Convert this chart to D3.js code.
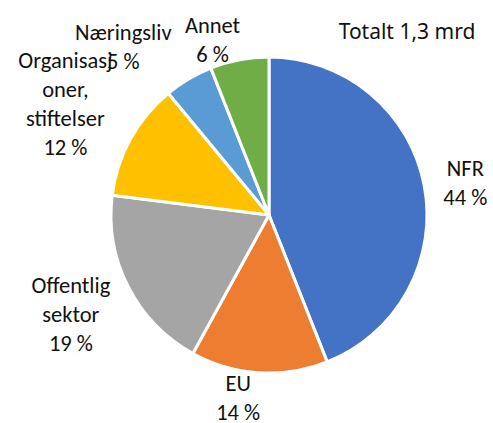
<!DOCTYPE html>
<html>
<head>
<meta charset="utf-8">
<script src="https://cdn.jsdelivr.net/npm/d3@7"></script>
<style>
    body { margin: 0; background: #fff; }
    text { font-family: Carlito, Calibri, Lato, sans-serif; fill: #111; }
    .total { font-family: "Noto Sans", "Open Sans", sans-serif; }
</style>
</head>
<body>
<div id="container-result"></div>
<script>
const categories = ['NFR', 'EU', 'Offentlig sektor', 'Organisasjoner, stiftelser', 'Næringsliv', 'Annet'];
const labelLines = [['NFR'], ['EU'], ['Offentlig', 'sektor'], ['Organisasj', 'oner,', 'stiftelser'], ['Næringsliv'], ['Annet']];
const shares = [44, 14, 19, 12, 5, 6];
const colors = ['#4472C4', '#ED7D31', '#A5A5A5', '#FFC000', '#5B9BD5', '#70AD47'];
const totalLabel = 'Totalt 1,3 mrd';

const [svgW, svgH] = [493, 423];
const [cx, cy, radius] = [269, 215, 158];
const [lineH, fontSize, labelGap] = [29, 22.5, 25];
// excel pushes some labels in to keep them inside the chart area
const labelNudge = [[-5, 7], [-18, -29], [0, -4], [-2, 5], [-28, 14], [-17, 33]];

function initSVG() {
    return d3.select('#container-result')
        .append('svg').attr('width', svgW).attr('height', svgH);
}

function drawPie(svg, arcs) {
    var arc = d3.arc().innerRadius(0).outerRadius(radius);
    svg.append('g').attr('transform', `translate(${cx},${cy})`)
        .selectAll('path').data(arcs).enter()
        .append('path')
        .attr('d', arc)
        .attr('fill', (d, i) => colors[i])
        .attr('stroke', '#fff')
        .attr('stroke-width', 3)
        .attr('stroke-linejoin', 'round');
}

function drawLabels(svg, arcs) {
    var g = svg.append('g').attr('font-size', fontSize);
    var measure = g.append('text').attr('visibility', 'hidden');

    arcs.forEach(function (d, i) {
        var lines = labelLines[i].concat([shares[i] + ' %']);
        var w = d3.max(lines, function (s) {
            measure.text(s);
            return measure.node().getComputedTextLength();
        });
        var h = lines.length * lineH;
        var mid = (d.startAngle + d.endAngle) / 2;
        var ax = cx + (radius + labelGap) * Math.sin(mid);
        var ay = cy - (radius + labelGap) * Math.cos(mid);
        var bx = ax + Math.sin(mid) * w / 2 + labelNudge[i][0];
        var by = ay - Math.cos(mid) * h / 2 + labelNudge[i][1];

        var t = g.append('text').attr('text-anchor', 'middle');
        lines.forEach(function (s, k) {
            t.append('tspan')
                .attr('x', bx)
                .attr('y', by + (k - (lines.length - 1) / 2) * lineH)
                .attr('dy', '0.35em')
                .text(s);
        });
    });
    measure.remove();
}

function main() {
    var svg = initSVG();
    var pie = d3.pie().sort(null).value(d => d);
    var arcs = pie(shares);
    drawPie(svg, arcs);
    drawLabels(svg, arcs);
    svg.append('text').attr('class', 'total')
        .attr('x', 407).attr('y', 32).attr('dy', '0.35em')
        .attr('text-anchor', 'middle').attr('font-size', 21)
        .text(totalLabel);
}

main();
</script>
</body>
</html>
